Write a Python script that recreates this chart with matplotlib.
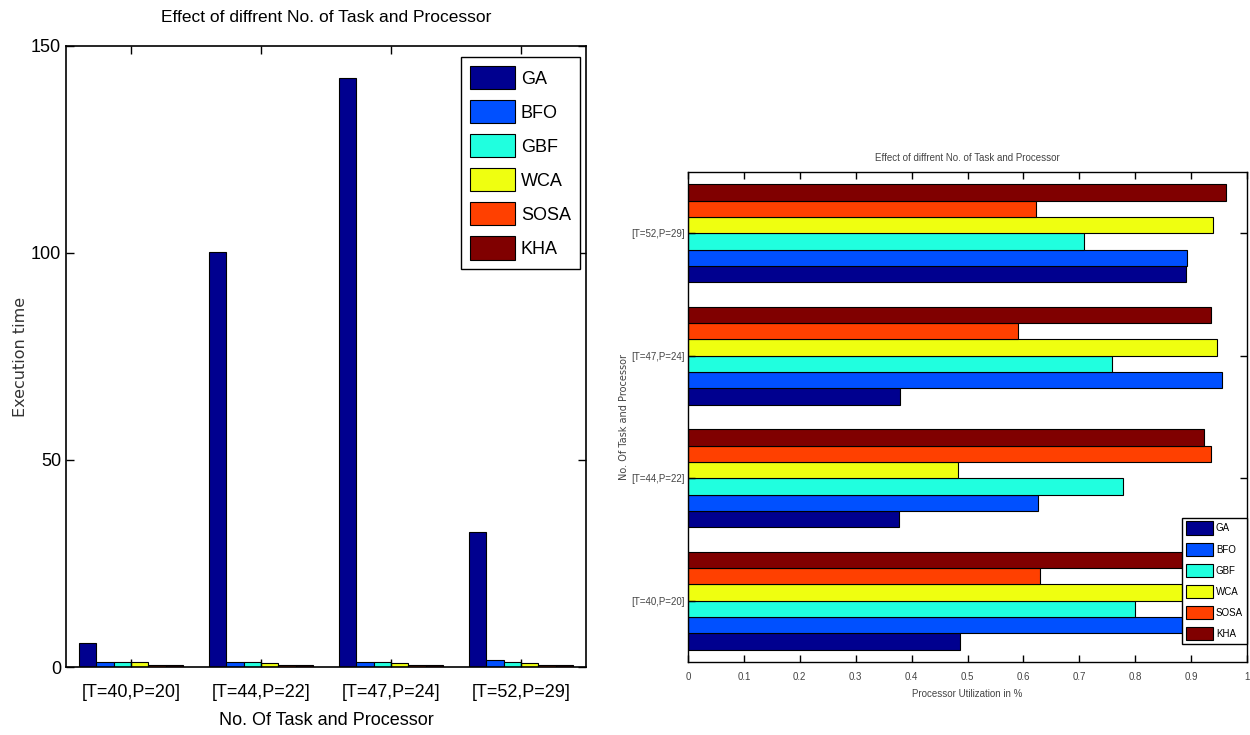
import matplotlib
matplotlib.use("Agg")
import matplotlib.pyplot as plt
import numpy as np

plt.rcParams['font.family'] = ['Liberation Sans Narrow', 'Liberation Sans', 'DejaVu Sans']

algorithms = ['GA', 'BFO', 'GBF', 'WCA', 'SOSA', 'KHA']
colors = ['#00008F', '#0050FF', '#20FFDF', '#EFFF10', '#FF4000', '#800000']
groups = ['[T=40,P=20]', '[T=44,P=22]', '[T=47,P=24]', '[T=52,P=29]']

# Execution time (left chart), per algorithm, per group
exec_time = {
    'GA':   [5.7, 100.2, 142.2, 32.5],
    'BFO':  [1.2, 1.2, 1.2, 1.8],
    'GBF':  [1.2, 1.2, 1.2, 1.3],
    'WCA':  [1.3, 0.9, 0.9, 0.9],
    'SOSA': [0.4, 0.4, 0.4, 0.4],
    'KHA':  [0.4, 0.4, 0.4, 0.4],
}

# Processor utilization (right chart)
utilization = {
    'GA':   [0.487, 0.377, 0.380, 0.891],
    'BFO':  [0.95, 0.627, 0.956, 0.893],
    'GBF':  [0.799, 0.779, 0.758, 0.708],
    'WCA':  [0.93, 0.483, 0.946, 0.940],
    'SOSA': [0.629, 0.936, 0.590, 0.623],
    'KHA':  [0.94, 0.923, 0.936, 0.963],
}

fig = plt.figure(figsize=(12.5, 7.35), dpi=100)

n = len(algorithms)
bw = 0.8 / n
x = np.arange(1, len(groups) + 1)

# ---------- Left chart ----------
ax1 = fig.add_axes([0.0528, 0.0925, 0.416, 0.845])
for i, alg in enumerate(algorithms):
    offs = -0.4 + bw * (i + 0.5)
    ax1.bar(x + offs, exec_time[alg], width=bw, color=colors[i],
            edgecolor='black', linewidth=0.8, label=alg)
ax1.set_xlim(0.5, 4.5)
ax1.set_ylim(0, 150)
ax1.set_yticks([0, 50, 100, 150])
ax1.set_xticks(x)
ax1.set_xticklabels(groups, fontsize=13)
ax1.tick_params(axis='y', labelsize=13)
ax1.tick_params(axis='x', pad=12)
ax1.tick_params(direction='in', top=True, right=True, length=6, width=1)
ax1.set_xlabel('No. Of Task and Processor', fontsize=13, labelpad=8)
ax1.set_ylabel('Execution time', fontsize=11.5, family=['DejaVu Sans'], color='#333333')
ax1.yaxis.set_label_coords(-0.074, 0.5)
ax1.set_title('Effect of diffrent No. of Task and Processor', fontsize=12.5, pad=17)
for s in ax1.spines.values():
    s.set_linewidth(1.2)
leg1 = ax1.legend(loc='upper right', fontsize=13, fancybox=False, edgecolor='black',
                  handlelength=2.5, handleheight=1.6, labelspacing=0.6,
                  borderpad=0.5, handletextpad=0.3, framealpha=1,
                  bbox_to_anchor=(0.988, 0.982), borderaxespad=0)
leg1.get_frame().set_linewidth(1.0)

# ---------- Right chart ----------
ax2 = fig.add_axes([0.5504, 0.0993, 0.4472, 0.6667])
for i, alg in enumerate(algorithms):
    offs = -0.4 + bw * (i + 0.5)
    ax2.barh(x + offs, utilization[alg], height=bw, color=colors[i],
             edgecolor='black', linewidth=0.8, label=alg)
ax2.set_xlim(0, 1)
ax2.set_ylim(0.5, 4.5)
ax2.set_xticks(np.round(np.arange(0, 1.01, 0.1), 1))
ax2.set_xticklabels(['0', '0.1', '0.2', '0.3', '0.4', '0.5', '0.6', '0.7', '0.8', '0.9', '1'],
                    fontsize=7, color='#444444')
ax2.set_yticks(x)
ax2.set_yticklabels(groups, fontsize=7, color='#444444')
ax2.tick_params(direction='in', top=True, right=True, length=5, width=1)
ax2.tick_params(axis='x', pad=7)
ax2.tick_params(axis='y', pad=2)
ax2.set_xlabel('Processor Utilization in %', fontsize=7, color='#444444', labelpad=5)
ax2.set_ylabel('No. Of Task and Processor', fontsize=7, color='#444444',
               family=['DejaVu Sans'], labelpad=2)
ax2.set_title('Effect of diffrent No. of Task and Processor', fontsize=7,
              color='#444444', pad=8)
for s in ax2.spines.values():
    s.set_linewidth(1.0)
leg2 = ax2.legend(loc='lower right', fontsize=7, fancybox=False, edgecolor='black',
                  handlelength=2.8, handleheight=1.8, labelspacing=0.75,
                  borderpad=0.4, handletextpad=0.3, framealpha=1,
                  bbox_to_anchor=(1.0, 0.036), borderaxespad=0)
leg2.get_frame().set_linewidth(1.0)

fig.savefig('out.png', dpi=100)
